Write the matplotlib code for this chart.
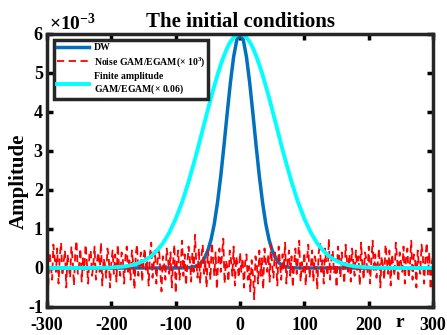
import matplotlib.pyplot as plt
import numpy as np

plt.rcParams['font.family'] = ['Liberation Serif', 'DejaVu Serif']
plt.rcParams['font.weight'] = 'bold'
plt.rcParams['axes.unicode_minus'] = False
plt.rcParams['mathtext.fontset'] = 'custom'
plt.rcParams['mathtext.rm'] = 'Liberation Serif:bold'
plt.rcParams['mathtext.it'] = 'Liberation Serif:bold'

# half profiles (r >= 0), amplitude in units of 1e-3
r_half = [0, 5, 10, 15, 20, 25, 30, 35, 40, 45, 50, 55, 60, 65, 70, 80, 90,
          100, 110, 120, 130, 140, 150, 160, 170, 180, 200, 220, 250, 300]
dw_half = [6.0, 5.85, 5.41, 4.75, 3.96, 3.13, 2.35, 1.68, 1.13, 0.73, 0.45,
           0.26, 0.14, 0.074, 0.037, 0.008, 0.001, 0, 0, 0, 0, 0, 0, 0, 0,
           0, 0, 0, 0, 0]
fa_half = [6.0, 5.98, 5.91, 5.80, 5.64, 5.44, 5.21, 4.95, 4.67, 4.37, 4.06,
           3.74, 3.42, 3.10, 2.79, 2.21, 1.69, 1.26, 0.905, 0.63, 0.43, 0.28,
           0.18, 0.11, 0.066, 0.038, 0.012, 0.003, 0.0, 0.0]

# noise, r = -300..300 step 2
noise = [0.85, -0.55, 0.4, 0.1, -0.3, 0.6, 0.25, -0.1, 0.5, -0.4, 0.3, 0.65, -0.2, 0.15, 0.45, -0.5, 0.35, 0.05, -0.25, 0.55,
         0.2, -0.45, 0.4, 0.7, -0.15, 0.1, 0.5, -0.35, 0.25, -0.05, 0.6, 0.15, -0.4, 0.35, 0.45, -0.2, 0.05, 0.55, -0.3, 0.2,
         0.4, -0.1, 0.65, -0.45, 0.25, 0.1, -0.25, 0.5, 0.3, -0.5, 0.15, 0.45, -0.15, 0.35, -0.35, 0.6, 0.05, -0.2, 0.4, 0.2,
         -0.4, 0.3, 0.55, -0.1, 0.2, -0.3, 0.45, 0.1, -0.55, 0.35, 0.6, -0.2, 0.05, 0.4, -0.35, 0.25, 0.5, -0.1, 0.15, -0.45,
         0.35, 0.65, -0.25, 0.1, 0.45, -0.4, 0.2, 0.55, -0.05, -0.6, 0.3, 0.1, -0.3, 0.5, 0.25, -0.15, 0.4, -0.5, 0.15, 0.6,
         -0.65, 0.2, 0.45, -0.3, 0.1, 0.7, -0.2, 0.35, -0.45, 0.05, 0.55, 0.25, -0.35, 0.4, -0.1, 0.85, 0.15, -0.25, 0.5, -0.4,
         0.3, 0.6, -0.15, 0.2, -0.5, 0.45, 0.1, -0.3, 0.65, 0.25, -0.2, 0.4, -0.55, 0.15, 0.5, -0.1, 0.35, 0.75, -0.4, 0.2,
         0.05, -0.35, 0.45, 0.2, -0.2, 0.55, -0.45, 0.3, 0.1, -0.25, 0.4, -0.1, 0.25, -0.5, 0.15, 0.35, -0.3, 0.05, -0.6, 0.2,
         -0.15, -0.8, 0.3, 0.1, -0.4, 0.45, -0.2, 0.25, -0.55, 0.5, 0.15, -0.1, 0.35, -0.35, 0.6, 0.05, -0.25, 0.4, 0.2, -0.45,
         0.55, 0.1, -0.3, 0.35, -0.05, 0.65, -0.4, 0.2, 0.45, -0.2, 0.3, -0.5, 0.1, 0.5, -0.15, 0.25, 0.7, -0.35, 0.15, -0.1,
         0.4, -0.45, 0.2, 0.6, -0.25, 0.05, 0.45, -0.35, 0.3, 0.15, -0.55, 0.35, 0.65, -0.1, 0.2, -0.4, 0.5, 0.1, -0.2, 0.75,
         -0.3, 0.25, 0.45, -0.15, 0.1, -0.5, 0.55, 0.3, -0.25, 0.4, 0.05, -0.4, 0.6, 0.2, -0.1, 0.35, -0.35, 0.5, 0.15, -0.2,
         0.45, -0.05, 0.3, -0.45, 0.65, 0.1, -0.3, 0.4, 0.25, -0.15, 0.55, -0.4, 0.2, 0.7, -0.1, 0.35, -0.25, 0.15, 0.5, -0.5,
         0.3, 0.05, -0.3, 0.6, 0.2, -0.15, 0.45, -0.45, 0.35, 0.1, -0.2, 0.65, 0.25, -0.35, 0.4, 0.15, -0.1, 0.55, -0.4, 0.3,
         0.5, -0.25, 0.1, 0.7, -0.3, 0.35, 0.2, -0.5, 0.45, 0.05, -0.15, 0.6, 0.3, -0.4, 0.25, 0.65, -0.2, 0.4, -0.55, 0.15,
         0.3]
r_noise = np.arange(-300, 301, 2)

r_half = np.array(r_half)
r = np.concatenate([-r_half[::-1], r_half[1:]])
dw = np.concatenate([np.array(dw_half)[::-1], dw_half[1:]])
fa = np.concatenate([np.array(fa_half)[::-1], fa_half[1:]])

fig = plt.figure(figsize=(4.47, 3.35), dpi=100)
ax = fig.add_axes([0.105, 0.0836, 0.864, 0.815])

ax.plot(r, dw, color='#0072BD', lw=2.5, label='DW')
ax.plot(r_noise, noise, color='red', lw=1.3, ls=(0, (4, 2.5)),
        label=r'Noise GAM/EGAM($\times$ 10$^3$)')
ax.plot(r, fa, color='cyan', lw=2.8,
        label='Finite amplitude\nGAM/EGAM($\\times$ 0.06)')

ax.set_xlim(-300, 300)
ax.set_ylim(-1, 6)
ax.set_xticks(np.arange(-300, 301, 100))
ax.set_yticks(np.arange(-1, 7, 1))
ax.tick_params(direction='in', top=True, right=True, width=2.5, length=4,
               labelsize=13)
ax.tick_params(axis='x', pad=7)
ax.tick_params(axis='y', pad=3)
for s in ax.spines.values():
    s.set_linewidth(2.5)
    s.set_color('#262626')

ax.set_title('The initial conditions', fontsize=15, fontweight='bold', pad=5)
ax.set_ylabel('Amplitude', fontsize=15, fontweight='bold')
ax.yaxis.set_label_coords(-0.073, 0.46)
ax.yaxis.label.set_va('center')
ax.set_xlabel('r', fontsize=14, fontweight='bold')
ax.xaxis.set_label_coords(0.915, -0.025)
ax.xaxis.label.set_va('top')
ax.text(0.005, 1.0, '×10$^{-3}$', transform=ax.transAxes,
        fontsize=14, fontweight='bold', ha='left', va='bottom')

leg = ax.legend(loc='upper left', fontsize=7, handlelength=3.3,
                fancybox=False, framealpha=1, borderpad=0.3,
                labelspacing=0.3, handletextpad=0.5,
                bbox_to_anchor=(0.005, 0.995))
leg.get_frame().set_edgecolor('#262626')
leg.get_frame().set_linewidth(2.5)
for t in leg.get_texts():
    t.set_fontweight('bold')

fig.savefig('out.png', dpi=100)
